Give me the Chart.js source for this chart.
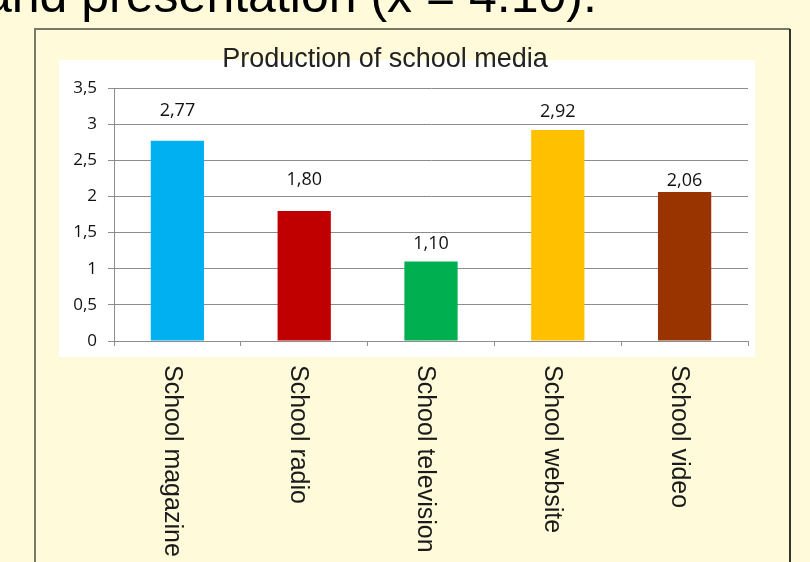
<!DOCTYPE html>
<html>
<head>
<meta charset="utf-8">
<script src="https://cdn.jsdelivr.net/npm/chart.js@4/dist/chart.umd.min.js"></script>
<style>
  html, body { margin: 0; padding: 0; background: #fffbda; }
  #wrap { position: relative; width: 810px; height: 562px; }
</style>
</head>
<body>
<div id="wrap"><canvas id="mediaChart" width="810" height="562"></canvas></div>
<script>
const categories = ['School magazine', 'School radio', 'School television', 'School website', 'School video'];
const means = [2.77, 1.80, 1.10, 2.92, 2.06];
const barColors = ['#00b0f0', '#c00000', '#00b050', '#ffc000', '#993300'];
const yTickValues = [0, 0.5, 1, 1.5, 2, 2.5, 3, 3.5];

const chartTitle = 'Production of school media';
const slideHeading = 'and presentation (x = 4.10).';

// how far each value label sits above its bar (px)
const labelLift = [25, 26, 12, 13, 6];

const commaNum = (v, digits) => v.toFixed(digits).replace('.', ',');

// slide background, frame and the white plot panel
const panelPlugin = {
    id: 'panel',
    beforeDraw(chart) {
        const ctx = chart.ctx;
        ctx.save();
        ctx.fillStyle = '#fffbda';
        ctx.fillRect(0, 0, chart.width, chart.height);

        ctx.fillStyle = '#000';
        ctx.font = '50px "Liberation Sans", Arial, sans-serif';
        ctx.textBaseline = 'alphabetic';
        ctx.textAlign = 'left';
        ctx.fillText(slideHeading, -16, 12);

        ctx.lineWidth = 2;
        ctx.strokeStyle = '#77776a';
        ctx.beginPath();
        ctx.moveTo(35, 570);
        ctx.lineTo(35, 29);
        ctx.lineTo(790, 29);
        ctx.stroke();
        ctx.strokeStyle = '#333';
        ctx.beginPath();
        ctx.moveTo(790, 29);
        ctx.lineTo(790, 570);
        ctx.stroke();

        ctx.fillStyle = '#ffffff';
        ctx.fillRect(59, 60, 696, 297);

        ctx.fillStyle = '#222';
        ctx.font = '27px "Liberation Sans", Arial, sans-serif';
        ctx.textAlign = 'center';
        ctx.fillText(chartTitle, 385, 67);
        ctx.restore();
    }
};

// value above each bar and the vertical category names
const labelPlugin = {
    id: 'barLabels',
    afterDatasetsDraw(chart) {
        const ctx = chart.ctx;
        const meta = chart.getDatasetMeta(0);
        ctx.save();
        ctx.fillStyle = '#111';
        ctx.font = '18px "Open Sans", sans-serif';
        ctx.textAlign = 'center';
        ctx.textBaseline = 'alphabetic';
        meta.data.forEach((bar, i) => {
            ctx.fillText(commaNum(means[i], 2), bar.x, bar.y - labelLift[i]);
        });

        const xScale = chart.scales.x;
        ctx.fillStyle = '#1a1a1a';
        ctx.font = '25px "Liberation Sans", Arial, sans-serif';
        ctx.textAlign = 'left';
        ctx.textBaseline = 'middle';
        categories.forEach((name, i) => {
            const x = xScale.getPixelForValue(i);
            ctx.save();
            ctx.translate(x - 6, 365);
            ctx.rotate(Math.PI / 2);
            ctx.fillText(name, 0, 0);
            ctx.restore();
        });
        ctx.restore();
    }
};

new Chart(document.getElementById('mediaChart'), {
    type: 'bar',
    data: {
        labels: categories,
        datasets: [{
            data: means,
            backgroundColor: barColors,
            borderWidth: 0,
            barPercentage: 0.42,
            categoryPercentage: 1
        }]
    },
    options: {
        responsive: false,
        animation: false,
        events: [],
        layout: { padding: { left: 59, top: 88, right: 62, bottom: 216 } },
        plugins: {
            legend: { display: false },
            title: { display: false },
            tooltip: { enabled: false }
        },
        scales: {
            x: {
                ticks: { display: false },
                grid: { drawOnChartArea: false, tickLength: 5, color: '#8c8c8c', offset: true },
                border: { color: '#8c8c8c' },
                afterFit: s => { s.height = 5; }
            },
            y: {
                min: 0,
                max: 3.5,
                afterBuildTicks: s => { s.ticks = yTickValues.map(v => ({ value: v })); },
                ticks: {
                    callback: v => commaNum(v, v % 1 ? 1 : 0),
                    color: '#111',
                    font: { family: '"Open Sans", sans-serif', size: 17 },
                    padding: 11
                },
                grid: { color: '#8c8c8c', tickLength: 6 },
                border: { color: '#8c8c8c' },
                afterFit: s => { s.width = 55; }
            }
        }
    },
    plugins: [panelPlugin, labelPlugin]
});
</script>
</body>
</html>
